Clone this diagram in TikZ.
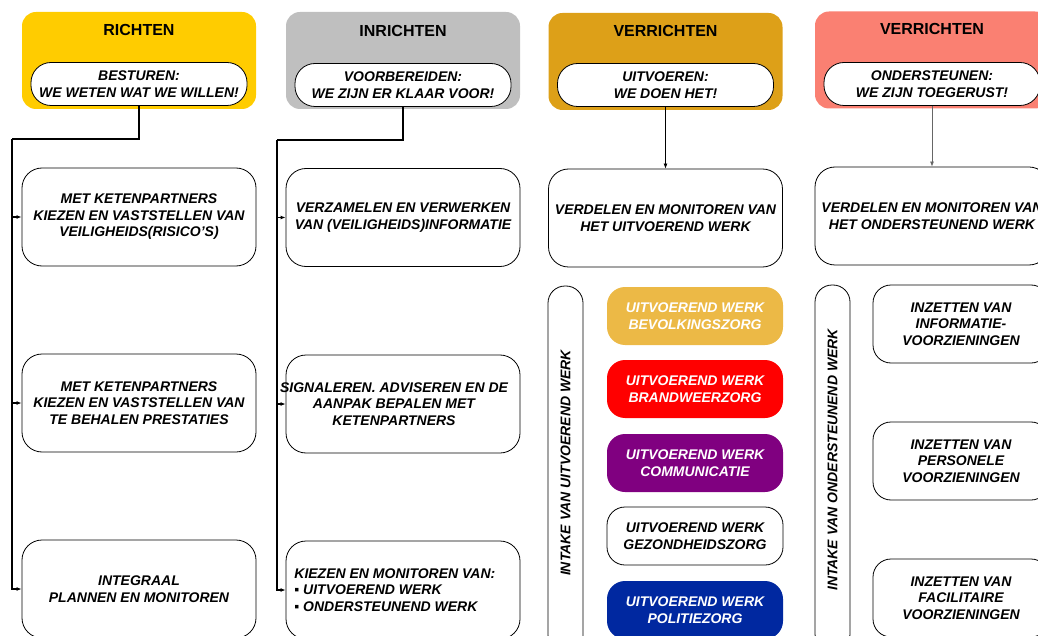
\documentclass[tikz,border=0pt]{standalone}
\usepackage{fontspec}
\setmainfont{Liberation Sans}
\usetikzlibrary{shapes, arrows, arrows.meta, calc, positioning}
\definecolor{richtgeel}{RGB}{255,204,0}
\definecolor{inrichtgrijs}{RGB}{191,191,191}
\definecolor{verrichtgoud}{RGB}{221,160,24}
\definecolor{steunzalm}{RGB}{250,128,114}
\definecolor{bevolking}{RGB}{236,185,70}
\definecolor{brandweer}{RGB}{255,0,0}
\definecolor{communicatie}{RGB}{128,0,128}
\definecolor{politie}{RGB}{0,40,160}
\newcommand{\boxfont}{\fontsize{14}{16.5}\selectfont\bfseries\itshape}
\tikzstyle{kop} = [rectangle, rounded corners=14pt, minimum width=234pt, minimum height=97pt]
\tikzstyle{titel} = [font=\fontsize{16}{18}\selectfont\bfseries]
\tikzstyle{motto} = [rectangle, draw, fill=white, rounded corners=20pt,
    minimum width=216pt, minimum height=43pt, align=center, font=\boxfont, inner sep=1pt]
\tikzstyle{taak} = [rectangle, draw, rounded corners=20pt,
    minimum width=234pt, minimum height=98pt, align=center, font=\boxfont, inner sep=1pt]
\tikzstyle{tekst} = [align=center, font=\boxfont, inner sep=0pt]
\tikzstyle{werk} = [rectangle, rounded corners=18pt, text=white,
    minimum width=176pt, minimum height=58pt, align=center, font=\boxfont]
\tikzstyle{middel} = [rectangle, draw, rounded corners=18pt,
    minimum width=176pt, minimum height=78pt, align=center, font=\boxfont]
\tikzstyle{intake} = [rectangle, draw, rounded corners=17pt, minimum width=35pt, minimum height=366pt]
\tikzstyle{line} = [draw, line width=1.2pt, -{Latex[length=5pt, width=4pt]}]

\begin{document}
\begin{tikzpicture}[x=1pt, y=-1pt, line width=0.8pt]
    \useasboundingbox (0,0) rectangle (1038,636);
    \clip (0,0) rectangle (1038,636);
    % Headers
    \node [kop, fill=richtgeel] (richten) at (139,60.5) {};
    \node [titel] (t1) at (139,30) {RICHTEN};
    \node [motto] (m1) at (139,84) {BESTUREN:\\WE WETEN WAT WE WILLEN!};
    \node [kop, fill=inrichtgrijs] (inrichten) at (403,60.5) {};
    \node [titel] (t2) at (403,31) {INRICHTEN};
    \node [motto] (m2) at (403,85) {VOORBEREIDEN:\\WE ZIJN ER KLAAR VOOR!};
    \node [kop, fill=verrichtgoud] (verrichten) at (665.5,61.5) {};
    \node [titel] (t3) at (665.5,31) {VERRICHTEN};
    \node [motto] (m3) at (665.5,85) {UITVOEREN:\\WE DOEN HET!};
    \node [kop, fill=steunzalm] (steunen) at (932,60) {};
    \node [titel] (t4) at (932,29) {VERRICHTEN};
    \node [motto] (m4) at (932,84) {ONDERSTEUNEN:\\WE ZIJN TOEGERUST!};
    % Richten
    \node [taak] (r1) at (139,217) {MET KETENPARTNERS\\KIEZEN EN VASTSTELLEN VAN\\VEILIGHEIDS(RISICO'S)};
    \node [taak] (r2) at (139,403) {MET KETENPARTNERS\\KIEZEN EN VASTSTELLEN VAN\\TE BEHALEN PRESTATIES};
    \node [taak] (r3) at (139,589) {INTEGRAAL\\PLANNEN EN MONITOREN};
    % Inrichten
    \node [taak] (i1) at (403,217.5) {VERZAMELEN EN VERWERKEN\\VAN (VEILIGHEIDS)INFORMATIE};
    \node [taak] (i2) at (403,404) {};
    \node [tekst] (i2-tekst) at ($(i2.center)+(-9,0)$) {SIGNALEREN. ADVISEREN EN DE\\AANPAK BEPALEN MET\\KETENPARTNERS};
    \node [taak] (i3) at (403,590) {};
    \node [tekst, align=left, anchor=west] (i3-tekst) at (294,590) {KIEZEN EN MONITOREN VAN:\\▪ UITVOEREND WERK\\▪ ONDERSTEUNEND WERK};
    % Uitvoeren
    \node [taak] (u0) at (665.5,218) {VERDELEN EN MONITOREN VAN\\HET UITVOEREND WERK};
    \node [intake] (u-intake) at (565.5,469) {};
    \node [font=\boxfont, rotate=90] (u-tekst) at (565.5,463) {INTAKE VAN UITVOEREND WERK};
    \node [werk, fill=bevolking] (w1) at (695,316) {UITVOEREND WERK\\BEVOLKINGSZORG};
    \node [werk, fill=brandweer] (w2) at (695,389) {UITVOEREND WERK\\BRANDWEERZORG};
    \node [werk, fill=communicatie] (w3) at (695,463) {UITVOEREND WERK\\COMMUNICATIE};
    \node [werk, draw, text=black] (w4) at (695,536) {UITVOEREND WERK\\GEZONDHEIDSZORG};
    \node [werk, fill=politie] (w5) at (695,610) {UITVOEREND WERK\\POLITIEZORG};
    % Ondersteunen
    \node [taak] (o0) at (932,216) {VERDELEN EN MONITOREN VAN\\HET ONDERSTEUNEND WERK};
    \node [intake] (o-intake) at (832.5,468) {};
    \node [font=\boxfont, rotate=90] (o-tekst) at (832.5,460) {INTAKE VAN ONDERSTEUNEND WERK};
    \node [middel] (v1) at (961,324) {INZETTEN VAN\\INFORMATIE-\\VOORZIENINGEN};
    \node [middel] (v2) at (961,461) {INZETTEN VAN\\PERSONELE\\VOORZIENINGEN};
    \node [middel] (v3) at (961,598) {INZETTEN VAN\\FACILITAIRE\\VOORZIENINGEN};
    % Edges
    \coordinate (k1) at (12,139);
    \coordinate (k2) at (277,140);
    \draw [line width=1.2pt] (m1.south) |- (k1);
    \path [line] (k1) |- (r1.west);
    \path [line] (k1) |- (r2.west);
    \path [line] (k1) |- (r3.west);
    \draw [line width=1.2pt] (m2.south) |- (k2);
    \path [line] (k2) |- (i1.west);
    \path [line] (k2) |- (i2.west);
    \path [line] (k2) |- (i3.west);
    \path [line, line width=0.8pt] (m3.south) -- (u0.north);
    \path [line, line width=0.8pt, draw=black!60] (m4.south) -- (o0.north);
\end{tikzpicture}
\end{document}
